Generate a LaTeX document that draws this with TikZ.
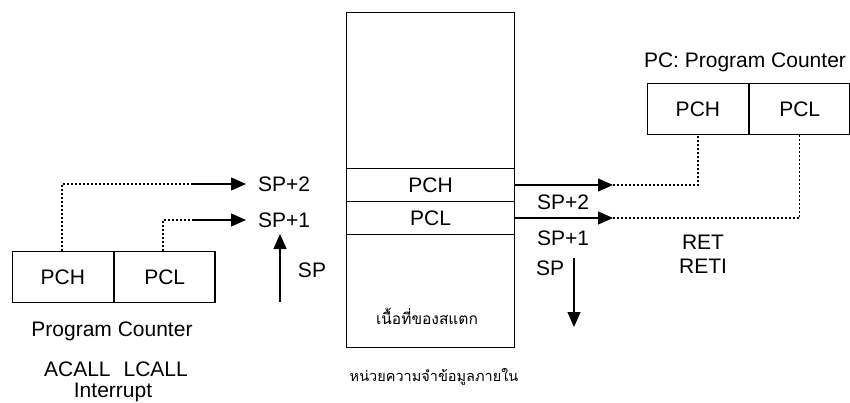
\documentclass[tikz,border=0pt]{standalone}
\usepackage{fontspec}
\setmainfont{Liberation Sans}
\newfontfamily\thaifont[Script=Thai]{Loma}
\usetikzlibrary{arrows.meta}
\begin{document}
\begin{tikzpicture}[x=1pt,y=-1pt,
  every node/.style={font=\fontsize{21}{23}\selectfont, inner sep=0pt},
  cell/.style={draw, line width=1.3pt, minimum height=51pt, minimum width=100.5pt},
  memcell/.style={draw, line width=1.3pt, minimum width=168pt},
  lbl/.style={font=\fontsize{21}{23}\selectfont},
  thai/.style={font=\thaifont\fontsize{15.5}{18}\selectfont},
  thaib/.style={font=\thaifont\fontsize{14.5}{18}\selectfont},
  dotl/.style={line width=1.3pt, dash pattern=on 2pt off 2pt},
  solidarr/.style={line width=1.3pt, -{Triangle[length=15pt,width=13pt]}},
]
\useasboundingbox (0,0) rectangle (850,403);
% memory
\node[memcell, minimum height=156pt, anchor=north west] (memtop) at (346,12) {};
\node[memcell, minimum height=33pt, anchor=north west] (mpch) at (346,168) {PCH};
\node[memcell, minimum height=33pt, anchor=north west] (mpcl) at (346,201) {PCL};
\node[memcell, minimum height=113pt, anchor=north west] (membot) at (346,234) {};
\node[thai] (stack) at (427,316) {เนื้อที่ของสแตก};
\node[thaib] (memlbl) at (434,377) {หน่วยความจำข้อมูลภายใน};
% left PC
\node[cell, anchor=north west] (lpch) at (12,251) {PCH};
\node[cell, anchor=north west] (lpcl) at (lpch.north east) {PCL};
\node[lbl] (lpc) at (112,331) {Program Counter};
\node[lbl] (calls) at (116,369) {ACALL\hspace{13pt}LCALL};
\node[lbl] (intr) at (113,392) {Interrupt};
% left labels
\node[lbl, anchor=west] (lsp2) at (258,184) {SP+2};
\node[lbl, anchor=west] (lsp1) at (258,220) {SP+1};
\node[lbl] (lsp) at (312,270) {SP};
\coordinate (lh1) at (62,184);
\coordinate (lh2) at (193,184);
\coordinate (lh3) at (246,184);
\coordinate (ll1) at (163,220);
\coordinate (ll2) at (193,220);
\coordinate (ll3) at (246,220);
\draw[dotl] (lpch.north -| lh1) -- (lh1) -- (lh2);
\draw[solidarr] (lh2) -- (lh3);
\draw[dotl] (lpcl.north -| ll1) -- (ll1) -- (ll2);
\draw[solidarr] (ll2) -- (ll3);
\coordinate (upbot) at (280,302);
\coordinate (uptop) at (280,234);
\draw[solidarr] (upbot) -- (uptop);
% right PC
\node[cell, anchor=north west] (rpch) at (647,83) {PCH};
\node[cell, anchor=north west] (rpcl) at (rpch.north east) {PCL};
\node[lbl] (rpc) at (745,62) {PC: Program Counter};
\coordinate (rh) at (613,185);
\coordinate (rl) at (613,218);
\draw[solidarr] (mpch.east |- rh) -- (rh);
\draw[solidarr] (mpcl.east |- rl) -- (rl);
\draw[dotl] (rh) -- (rpch.south |- rh) -- (rpch.south);
\draw[dotl] (rl) -- (rpcl.south |- rl) -- (rpcl.south);
\node[lbl] (rsp2) at (563,202) {SP+2};
\node[lbl] (rsp1) at (563,238) {SP+1};
\node[lbl] (rsp) at (550,268) {SP};
\node[lbl] (ret) at (703,242) {RET};
\node[lbl] (reti) at (703,266) {RETI};
\coordinate (downtop) at (574,258);
\coordinate (downbot) at (574,327);
\draw[solidarr] (downtop) -- (downbot);
\end{tikzpicture}
\end{document}
